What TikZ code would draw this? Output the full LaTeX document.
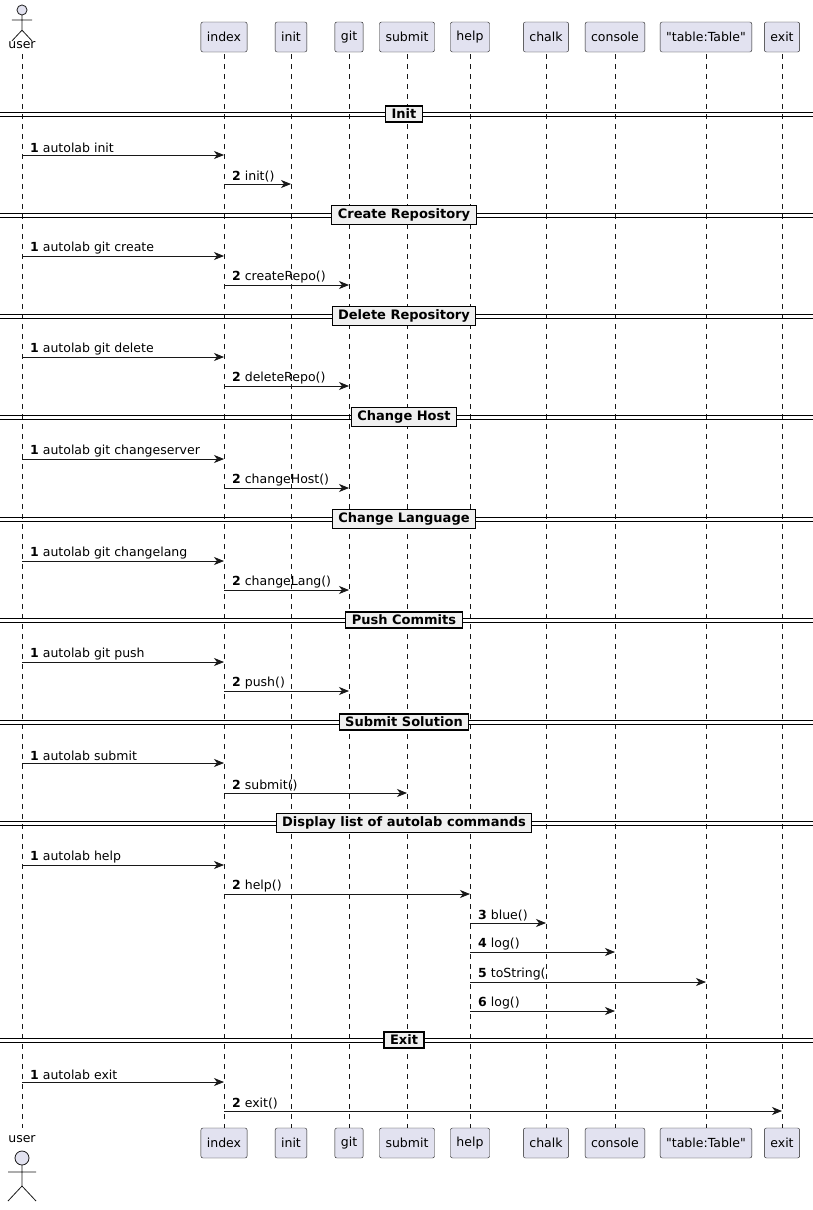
\documentclass[tikz,border=0pt]{standalone}
\usepackage{fontspec}
\setmainfont{DejaVu Sans}[Ligatures=TeXOff]
\usetikzlibrary{arrows.meta}
\definecolor{partfill}{HTML}{E2E2F0}
\definecolor{partline}{HTML}{181818}
\tikzset{
  part/.style={draw=partline, fill=partfill, rounded corners=2pt, minimum height=30pt, inner xsep=6pt, inner ysep=4pt, font=\fontsize{12.5}{14}\selectfont},
  lifeline/.style={draw=partline, dashed, dash pattern=on 5pt off 5pt, line width=0.5pt},
  message/.style={-{Stealth[length=10pt,width=8pt,inset=3pt]}, draw=partline, line width=0.8pt},
  msglabel/.style={anchor=south west, inner sep=1pt, font=\fontsize{12.5}{14}\selectfont},
  divlabel/.style={draw=black, fill=gray!12, line width=1.2pt, inner xsep=6pt, inner ysep=3pt, font=\bfseries\fontsize{13}{15}\selectfont}
}
% message: y, from, to, number, text
\newcommand{\msg}[5]{%
  \draw[message] (#2top |- 0,-#1) -- (#3top |- 0,-#1);
  \node[msglabel] at ([xshift=7pt]#2top |- 0,-#1+1) {\textbf{#4} #5};}
% divider: y, text
\newcommand{\divider}[2]{%
  \draw[line width=0.8pt] (0,-#1+2) -- (813,-#1+2) (0,-#1-2) -- (813,-#1-2);
  \node[divlabel] at (404,-#1) {#2};}
% actor figure: head center y, scale
\newcommand{\actor}[2]{%
  \begin{scope}[shift={(22,-#1)}, scale=#2]
    \draw[partline, fill=partfill, line width=0.8pt] (0,0) circle (7);
    \draw[partline, line width=0.8pt] (0,-7) -- (0,-28) (-14,-14) -- (14,-14)
      (-14,-43) -- (0,-28) -- (14,-43);
  \end{scope}}
\begin{document}
\begin{tikzpicture}[x=1pt, y=1pt]
  \useasboundingbox (0,0) rectangle (813,-1210);
  % Lifelines
  \foreach \n/\x in {user/22, index/224, init/291, git/349, submit/407, help/470, chalk/546, console/615, table/706, exit/782} {
    \coordinate (\n top) at (\x,-54);
    \coordinate (\n bot) at (\x,-1128);
    \draw[lifeline] (\n top) -- (\n bot);
  }
  % Participants
  \actor{10}{0.72}
  \node[font=\fontsize{12.5}{14}\selectfont] (user head) at (22,-45) {user};
  \node[font=\fontsize{12.5}{14}\selectfont] (user foot) at (22,-1139) {user};
  \actor{1158}{1}
  \foreach \n/\t in {index/index, init/init, git/git, submit/submit, help/help, chalk/chalk, console/console, table/{"table:Table"}, exit/exit} {
    \node[part] (\n head) at ([yshift=17]\n top) {\t};
    \node[part] (\n foot) at ([yshift=-15]\n bot) {\t};
  }
  % Init
  \divider{114}{Init}
  \msg{155}{user}{index}{1}{autolab init}
  \msg{184}{index}{init}{2}{init()}
  % Create Repository
  \divider{215}{Create Repository}
  \msg{256}{user}{index}{1}{autolab git create}
  \msg{285}{index}{git}{2}{createRepo()}
  % Delete Repository
  \divider{316}{Delete Repository}
  \msg{357}{user}{index}{1}{autolab git delete}
  \msg{386}{index}{git}{2}{deleteRepo()}
  % Change Host
  \divider{417}{Change Host}
  \msg{459}{user}{index}{1}{autolab git changeserver}
  \msg{488}{index}{git}{2}{changeHost()}
  % Change Language
  \divider{519}{Change Language}
  \msg{561}{user}{index}{1}{autolab git changelang}
  \msg{590}{index}{git}{2}{changeLang()}
  % Push Commits
  \divider{620}{Push Commits}
  \msg{662}{user}{index}{1}{autolab git push}
  \msg{691}{index}{git}{2}{push()}
  % Submit Solution
  \divider{722}{Submit Solution}
  \msg{763}{user}{index}{1}{autolab submit}
  \msg{793}{index}{submit}{2}{submit()}
  % Display list of autolab commands
  \divider{823}{Display list of autolab commands}
  \msg{865}{user}{index}{1}{autolab help}
  \msg{894}{index}{help}{2}{help()}
  \msg{923}{help}{chalk}{3}{blue()}
  \msg{952}{help}{console}{4}{log()}
  \msg{982}{help}{table}{5}{toString(}
  \msg{1011}{help}{console}{6}{log()}
  % Exit
  \divider{1040}{Exit}
  \msg{1082}{user}{index}{1}{autolab exit}
  \msg{1111}{index}{exit}{2}{exit()}
\end{tikzpicture}
\end{document}
